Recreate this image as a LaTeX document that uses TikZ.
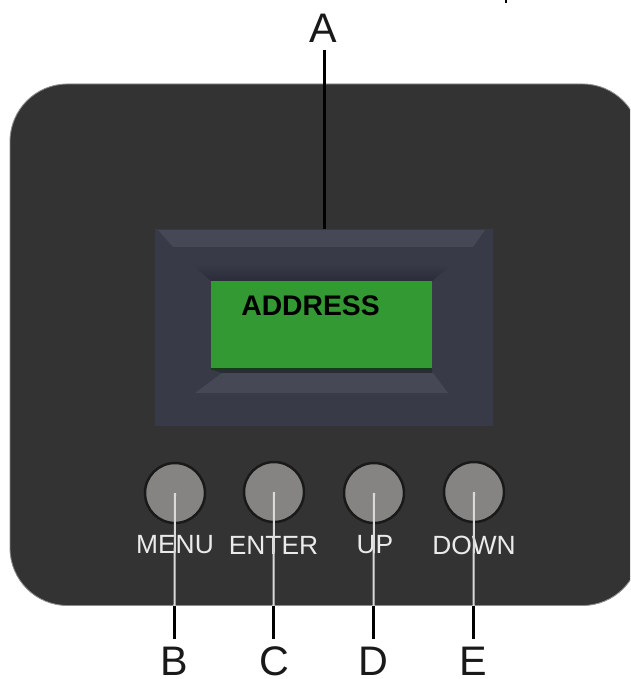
\documentclass[tikz,border=0pt]{standalone}
\usepackage{fontspec}
\setmainfont{Liberation Sans}
\usetikzlibrary{positioning}
\definecolor{panelgray}{HTML}{333333}
\definecolor{bezelblue}{HTML}{383A48}
\definecolor{bezellight}{HTML}{474855}
\definecolor{bezeldark}{HTML}{2B2C38}
\definecolor{lcdgreen}{HTML}{339933}
\definecolor{knobgray}{HTML}{858483}
\tikzset{
  knob/.style={circle,draw=black!90,line width=1.4pt,fill=knobgray,inner sep=0pt,minimum size=1.2cm},
  keytext/.style={text=white!92!black,font=\fontsize{15}{17}\selectfont,inner sep=0pt},
  letter/.style={text=black!90,font=\fontsize{23.5}{25}\selectfont,inner sep=0pt,text height=16.8pt,text depth=0pt},
  leader/.style={line width=1.15pt},
}
\begin{document}
\begin{tikzpicture}[x=0.02cm, y=-0.02cm]
\useasboundingbox (0,0) rectangle (630,679);
\clip (0,0) rectangle (630,679);
\fill[white] (0,0) rectangle (630,679);
\fill[panelgray,draw=black!45,line width=0.5pt,rounded corners=1.15cm] (10,84) rectangle (640,605.5);
\begin{scope}
  \fill[bezelblue] (155,229) rectangle (493,426);
  \fill[bezellight] (158,230) -- (485,230) -- (473,247) -- (173,247) -- cycle;
  \shade[top color=bezelblue,bottom color=bezeldark,middle color=bezelblue] (173,247) -- (473,247) -- (432,281) -- (211,281) -- cycle;
  \fill[bezeldark] (211,369) -- (432,369) -- (432,373) -- (222,373) -- cycle;
  \fill[bezellight] (222,373) -- (433,373) -- (448,393) -- (195,393) -- cycle;
  \fill[lcdgreen] (211,281) rectangle (432,369);
  \draw[black!60!lcdgreen,line width=0.6pt] (211,369) -- (432,369);
\end{scope}
\node[anchor=west,inner sep=0pt,font=\fontsize{16.1}{18}\bfseries\selectfont,text=black] (address) at (241,306) {ADDRESS};
\node[knob] (menuknob) at (175,493) {};
\node[knob] (enterknob) at (274,492) {};
\node[knob] (upknob) at (374,493) {};
\node[knob] (downknob) at (474,492) {};
\node[keytext] (menu) at (175,545) {MENU};
\node[keytext] (enter) at (273.5,545) {ENTER};
\node[keytext] (up) at (375,545) {UP};
\node[keytext] (down) at (474,545) {DOWN};
\node[letter] (A) at (323,27.5) {A};
\node[letter] (B) at (174,661) {B};
\node[letter] (C) at (274,661) {C};
\node[letter] (D) at (373,661) {D};
\node[letter] (E) at (473.5,661) {E};
\coordinate (edgeB) at (174.5,606);
\coordinate (edgeC) at (273.5,606);
\coordinate (edgeD) at (373.5,606);
\coordinate (edgeE) at (473.5,606);
\coordinate (bezeltop) at (324.5,229);
\coordinate (tickend) at (506,3);
\draw[leader,black] (324.5,50) -- (bezeltop);
\draw[leader,white!85!black] (menuknob.center) -- (edgeB);
\draw[leader,white!85!black] (enterknob.center) -- (edgeC);
\draw[leader,white!85!black] (upknob.center) -- (edgeD);
\draw[leader,white!85!black] (downknob.center) -- (edgeE);
\draw[leader,black] (edgeB) -- ([yshift=4pt]B.north -| edgeB);
\draw[leader,black] (edgeC) -- ([yshift=4pt]C.north -| edgeC);
\draw[leader,black] (edgeD) -- ([yshift=4pt]D.north -| edgeD);
\draw[leader,black] (edgeE) -- ([yshift=4pt]E.north -| edgeE);
\draw[leader,black] (506,0) -- (tickend);
\end{tikzpicture}
\end{document}
